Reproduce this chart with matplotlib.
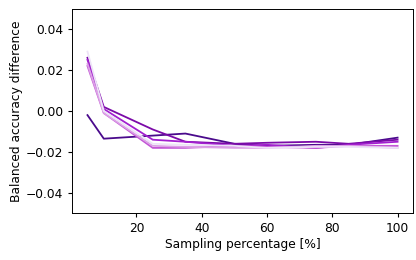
import matplotlib
matplotlib.use('Agg')
import matplotlib.pyplot as plt

# Sampling percentages and accuracy differences per run
sampling = [5, 10, 25, 35, 50, 60, 75, 85, 100]

run_1 = [-0.002, -0.0135, -0.012, -0.011, -0.016, -0.017, -0.0165, -0.0165, -0.013]
run_2 = [0.026, 0.002, -0.009, -0.015, -0.016, -0.0155, -0.015, -0.016, -0.014]
run_3 = [0.025, 0.001, -0.014, -0.015, -0.017, -0.0165, -0.018, -0.0165, -0.015]
run_4 = [0.022, -0.001, -0.018, -0.018, -0.017, -0.0175, -0.018, -0.017, -0.017]
run_5 = [0.023, -0.001, -0.017, -0.0175, -0.018, -0.018, -0.017, -0.017, -0.018]
run_6 = [0.029, 0.000, -0.016, -0.0165, -0.017, -0.018, -0.0175, -0.0175, -0.018]

runs = [run_1, run_2, run_3, run_4, run_5, run_6]
colors = ['#4a0a8c', '#7b0aa8', '#a21fcf', '#c356d6', '#dca0e6', '#ede3f7']

plt.rcParams['font.size'] = 8.8
plt.rcParams['xtick.major.size'] = 3
plt.rcParams['ytick.major.size'] = 3
plt.rcParams['axes.linewidth'] = 0.7

fig = plt.figure(figsize=(4.16, 2.6), dpi=100)
ax = fig.add_subplot(111)
fig.subplots_adjust(left=0.173, right=0.993, top=0.967, bottom=0.179)

for values, c in zip(runs, colors):
    ax.plot(sampling, values, color=c, linewidth=1.3)

ax.set_ylim(-0.05, 0.05)
ax.set_yticks([-0.04, -0.02, 0.0, 0.02, 0.04])
ax.set_xticks([20, 40, 60, 80, 100])
ax.set_xlabel('Sampling percentage [%]', labelpad=2)
ax.set_ylabel('Balanced accuracy difference', labelpad=1.5)

fig.savefig('out.png', dpi=100)
